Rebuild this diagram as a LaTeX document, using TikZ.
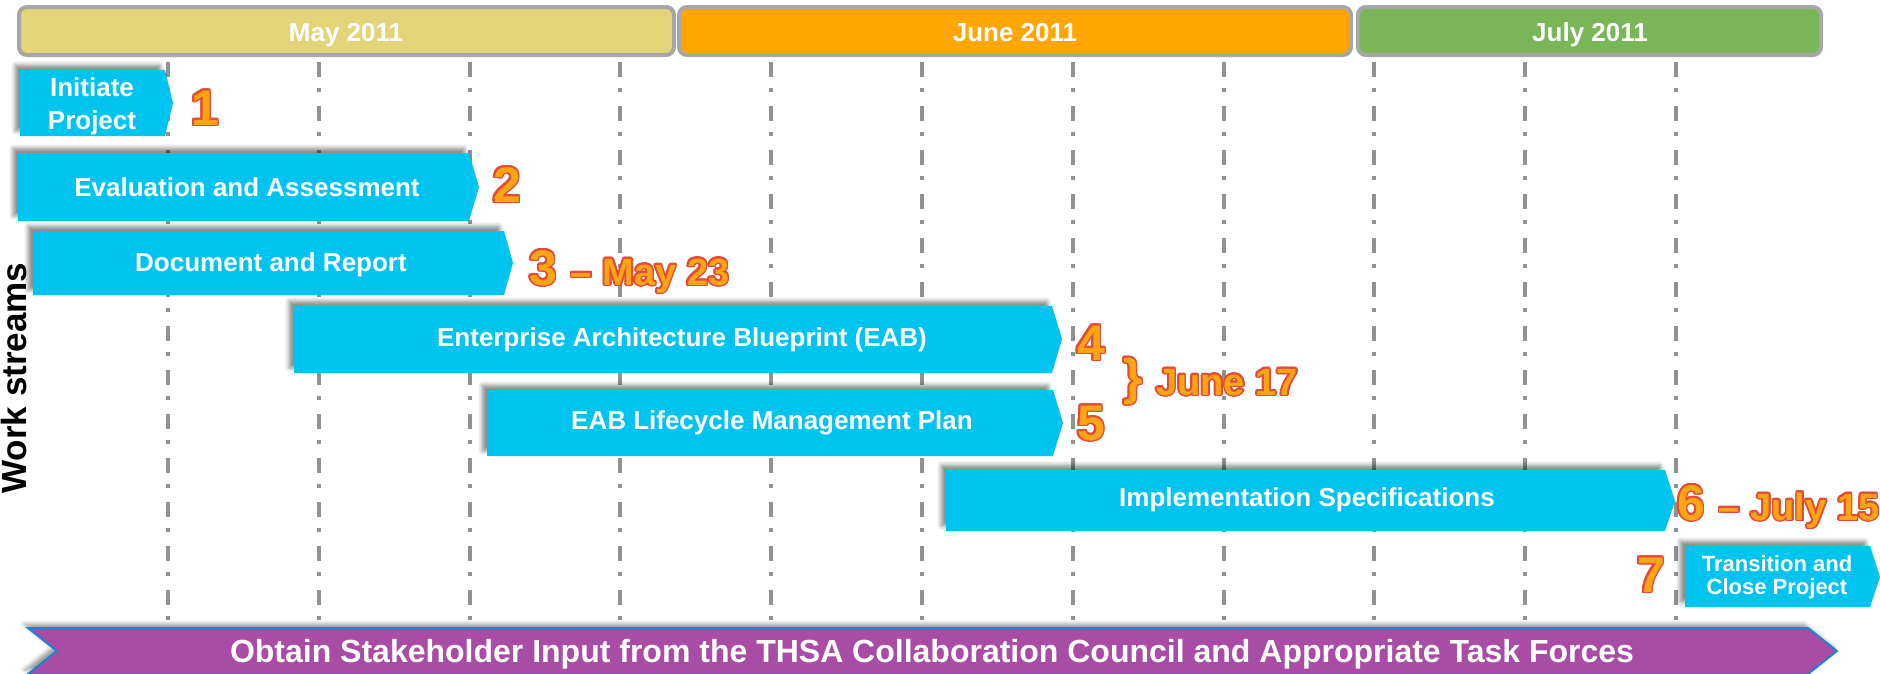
\documentclass[tikz,border=0pt]{standalone}
\usepackage{fontspec}
\setmainfont{Liberation Sans}
\usepackage[copies]{contour}
\usetikzlibrary{shadows.blur}
\contourlength{1.6pt}

\definecolor{maycol}{RGB}{227,212,122}
\definecolor{junecol}{RGB}{255,167,0}
\definecolor{julycol}{RGB}{122,181,87}
\definecolor{monthedge}{RGB}{166,166,166}
\definecolor{barcol}{RGB}{0,196,240}
\definecolor{gridcol}{RGB}{145,145,145}
\definecolor{inputcol}{RGB}{169,76,165}
\definecolor{inputedge}{RGB}{30,130,210}
\definecolor{numfill}{RGB}{255,165,20}
\definecolor{numedge}{RGB}{225,75,55}

\newcommand{\numsize}{\fontsize{50}{50}\selectfont\bfseries}
\newcommand{\datesize}{\fontsize{38}{38}\selectfont\bfseries}

\tikzstyle{month}=[draw=monthedge, line width=4pt, rounded corners=8pt]
\tikzstyle{monthtext}=[text=white, anchor=base, font=\fontsize{26}{28}\selectfont\bfseries]
\tikzstyle{grid}=[gridcol, line width=4pt, dash pattern=on 15pt off 11pt on 4pt off 14pt]
\tikzstyle{bar}=[fill=barcol, blur shadow={shadow xshift=-5pt, shadow yshift=5pt, shadow blur radius=4pt, shadow opacity=45}]
\tikzstyle{bartext}=[text=white, align=center, font=\fontsize{26}{33}\selectfont\bfseries]
\tikzstyle{smallbartext}=[text=white, align=center, font=\fontsize{22}{23}\selectfont\bfseries]
\tikzstyle{milestone}=[text=numfill, inner sep=0pt, font=\numsize]

\begin{document}
\begin{tikzpicture}[x=1pt, y=-1pt]
\useasboundingbox (0,0) rectangle (1880,673);
% Grid
    \draw[grid] (168,62) -- (168,621);
    \draw[grid] (319,62) -- (319,621);
    \draw[grid] (470,62) -- (470,621);
    \draw[grid] (620,62) -- (620,621);
    \draw[grid] (771,62) -- (771,621);
    \draw[grid] (922,62) -- (922,621);
    \draw[grid] (1073,62) -- (1073,621);
    \draw[grid] (1224,62) -- (1224,621);
    \draw[grid] (1374,62) -- (1374,621);
    \draw[grid] (1525,62) -- (1525,621);
    \draw[grid] (1676,62) -- (1676,621);
% Months
    \draw[month, fill=maycol] (19,7) rectangle (674,55);
    \draw[month, fill=junecol] (679,7) rectangle (1351,55);
    \draw[month, fill=julycol] (1358,7) rectangle (1821,55);
    \node[monthtext] (may) at (346,41) {May 2011};
    \node[monthtext] (june) at (1015,41) {June 2011};
    \node[monthtext] (july) at (1590,41) {July 2011};
% Work streams
    \fill[bar] (20,70) -- (165,70) -- (173,103) -- (165,136) -- (20,136) -- cycle;
    \fill[bar] (18,153) -- (469,153) -- (479,187) -- (469,221) -- (18,221) -- cycle;
    \fill[bar] (33,231) -- (504,231) -- (513,263) -- (504,295) -- (33,295) -- cycle;
    \fill[bar] (294,306) -- (1052,306) -- (1062,339) -- (1052,373) -- (294,373) -- cycle;
    \fill[bar] (487,390) -- (1053,390) -- (1063,423) -- (1053,456) -- (487,456) -- cycle;
    \fill[bar] (946,470) -- (1665,470) -- (1675,501) -- (1665,531) -- (946,531) -- cycle;
    \fill[bar] (1685,546) -- (1870,546) -- (1880,577) -- (1870,607) -- (1685,607) -- cycle;
    \node[bartext] (initiate) at (92,106) {Initiate\\Project};
    \node[bartext] (evaluation) at (247,187) {Evaluation and Assessment};
    \node[bartext] (document) at (271,265) {Document and Report};
    \node[bartext] (eab) at (682,340) {Enterprise Architecture Blueprint (EAB)};
    \node[bartext] (lifecycle) at (772,423) {EAB Lifecycle Management Plan};
    \node[bartext] (implementation) at (1307,500) {Implementation Specifications};
    \node[smallbartext] (transition) at (1777,577) {Transition and\\Close Project};
    \node[rotate=90, anchor=base, inner sep=0pt, font=\fontsize{35}{35}\selectfont\bfseries] (streams) at (26,378) {Work streams};
% Milestones
    \node[milestone, anchor=base] (one) at (205,125) {\contour{numedge}{1}};
    \node[milestone, anchor=base] (two) at (507,202) {\contour{numedge}{2}};
    \node[milestone, anchor=base west] (three) at (529,285) {\contour{numedge}{3 {\datesize -- May 23}}};
    \node[milestone, anchor=base] (four) at (1091,360) {\contour{numedge}{4}};
    \node[milestone, anchor=base] (five) at (1091,440) {\contour{numedge}{5}};
    \node[milestone] (brace) at (1133,382) {\contour{numedge}{\}}};
    \node[milestone, anchor=base west, font=\datesize] (june17) at (1156,395) {\contour{numedge}{June 17}};
    \node[milestone, anchor=base west] (six) at (1677,520) {\contour{numedge}{6 {\datesize -- July 15}}};
    \node[milestone, anchor=base] (seven) at (1651,592) {\contour{numedge}{7}};
% Stakeholder input
    \filldraw[fill=inputcol, draw=inputedge, line width=2pt, blur shadow={shadow xshift=-4pt, shadow yshift=4pt, shadow blur radius=4pt, shadow opacity=40}]
        (28,628) -- (1808,628) -- (1837,651) -- (1808,674) -- (28,674) -- (57,651) -- cycle;
    \node[bartext, font=\fontsize{32}{32}\selectfont\bfseries] (input) at (932,654) {Obtain Stakeholder Input from the THSA Collaboration Council and Appropriate Task Forces};
\end{tikzpicture}
\end{document}
